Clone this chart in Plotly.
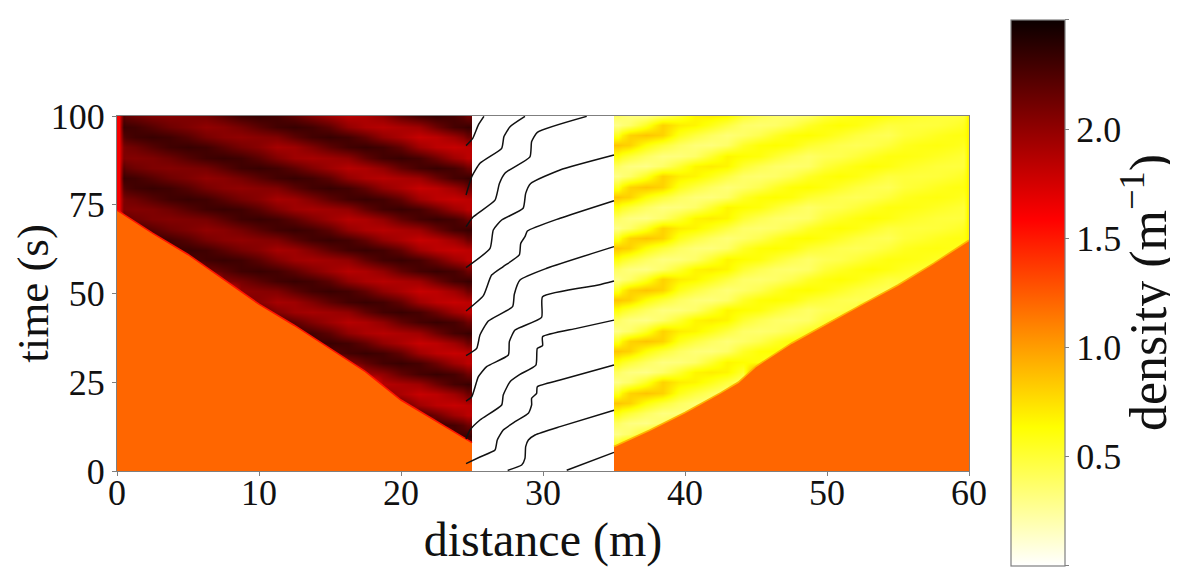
import plotly.graph_objects as go

# ---------- density readings (m^-1) ----------
# colour map
hot_r = [[0, "rgb(255,255,255)"], [0.254, "rgb(255,255,0)"], [0.635, "rgb(255,0,0)"], [1, "rgb(11,0,0)"]]

# upstream block: cell edges in metres, row centres in seconds
left_x_edges = [0, .25, .625, 1.875, 3.125, 4.375, 5.625, 6.875, 8.125, 9.375, 10.625, 11.875, 13.125,
                14.375, 15.625, 16.875, 18.125, 19.375, 20.625, 21.875, 23.125, 24.375, 25]
left_t = [-1.6, 1.3, 4.2, 7.1, 10.0, 12.9, 15.8, 18.7, 21.6, 24.5, 27.4, 30.3, 33.2, 36.1, 39.0, 41.9, 44.8,
          47.7, 50.6, 53.5, 56.4, 59.3, 62.2, 65.1, 68.0, 70.9, 73.8, 76.7, 79.6, 82.5, 85.4, 88.3, 91.2,
          94.1, 97.0, 99.9, 102.8]
R0 = [2.33,2.30,2.22,2.13,2.07,2.00,2.03,2.10,2.20,2.29,2.33,2.29,2.19,2.00,1.90,1.86,1.90,1.95,2.13,2.28,2.33]
R2 = [2.22,2.13,2.07,2.05,2.07,2.10,2.20,2.30,2.33,2.29,2.19,2.06,1.95,1.86,1.90,2.00,2.17,2.28,2.33,2.28,2.13]
R4 = [2.07,2.05,2.07,2.13,2.22,2.30,2.33,2.30,2.20,2.06,1.95,1.92,1.95,2.00,2.17,2.29,2.33,2.28,2.13,1.95,1.84]
R6 = [2.07,2.13,2.22,2.30,2.33,2.30,2.20,2.10,2.03,1.92,1.95,2.06,2.19,2.29,2.33,2.29,2.17,1.95,1.84,1.80,1.84]
R8 = [2.22,2.30,2.33,2.30,2.22,2.10,2.03,2.00,2.03,2.06,2.19,2.29,2.33,2.29,2.17,2.00,1.90,1.80,1.84,1.95,2.13]
left_rows = [R2, R4, R6, R8, R0] * 7 + [R2, R4]
left_first_congested = [21,21,21,20,19,18,17,16,15,15,14,13,12,11,10,9,8,7,7,6,5,4,3,2,1,0,
                        0,0,0,0,0,0,0,0,0,0,0]
free_density = 1.2
left_edge_density = 1.62

# downstream block
right_x_edges = [35, 35.57, 36.70, 37.84, 38.98, 40.11, 41.25, 42.39, 43.52, 44.66, 45.80, 46.93, 48.07, 49.20,
                 50.34, 51.48, 52.61, 53.75, 54.89, 56.02, 57.16, 58.30, 59.43, 59.8, 60]
right_t = [-1.1, 1.8, 4.7, 7.6, 10.5, 13.4, 16.3, 19.2, 22.1, 25.0, 27.9, 30.8, 33.7, 36.6, 39.5, 42.4, 45.3,
           48.2, 51.1, 54.0, 56.9, 59.8, 62.7, 65.6, 68.5, 71.4, 74.3, 77.2, 80.1, 83.0, 85.9, 88.8, 91.7,
           94.6, 97.5, 100.4, 103.3]
Q0 = [.85,.80,.62,.50,.40,.34,.33,.38,.54,.62,.64,.61,.52,.48,.44,.42,.44,.49,.56,.59,.60,.58,.55]
Q2 = [.55,.80,.85,.80,.58,.48,.40,.34,.38,.44,.54,.62,.64,.60,.54,.48,.44,.42,.49,.52,.56,.59,.60]
Q4 = [.30,.38,.55,.80,.70,.67,.58,.48,.38,.36,.38,.44,.54,.60,.63,.60,.54,.48,.49,.48,.49,.52,.56]
Q6 = [.40,.32,.30,.38,.52,.67,.70,.67,.52,.44,.38,.36,.38,.49,.55,.60,.63,.60,.55,.52,.49,.48,.49]
Q8 = [.62,.50,.40,.32,.33,.38,.52,.67,.64,.61,.52,.44,.38,.42,.44,.49,.55,.60,.60,.58,.55,.52,.49]
right_rows = [Q6, Q8, Q0, Q2, Q4] * 7 + [Q6, Q8]
right_cells_released = [0,0,1,2,4,5,6,7,8,9,9,11,12,13,14,15,16,18,19,20,21,22,
                        23,23,23,23,23,23,23,23,23,23,23,23,23,23,23]
right_edge_density = 0.68

# fronts between the free-flow region and the waves
left_front_x = [0, 2.5, 5, 7.5, 10, 12.5, 15, 17.5, 20, 22.5, 25]
left_front_t = [73.5, 67, 61, 54, 47, 41, 34.5, 28, 20, 14, 8]
right_front_x = [35, 37.5, 40, 42.5, 43.75, 45, 47.5, 50, 52.5, 55, 57.5, 60]
right_front_t = [6.9, 11.5, 16.5, 22, 25, 29.5, 36, 41.6, 47, 52.4, 58.5, 65]

# vehicle trajectories in the middle section: (distance, time)
trajectories = [
    ([31.67, 35], [.2, 5.25]),
    ([27.51, 28.5, 28.73, 28.78, 28.97, 29.44, 31.2, 35], [.18, 1.68, 3.56, 6.85, 8.73, 10.14, 12.5, 17.1]),
    ([24.58, 25.56, 26.62, 26.78, 27.2, 28.03, 28.97, 29.2, 29.2, 29.55, 29.6, 31.2, 35],
     [2.06, 3.94, 5.91, 8.73, 11.55, 13.89, 16.24, 18.6, 20.47, 21.87, 23.75, 25.63, 29.85]),
    ([24.58, 24.86, 25.56, 27.09, 27.2, 27.68, 28.38, 29.5, 29.6, 29.97, 29.97, 32.37, 35],
     [9.01, 11.55, 14.36, 18.59, 21.4, 25.16, 27.2, 29.85, 34.55, 35.3, 37.84, 40.18, 42.5]),
    ([24.58, 24.98, 25.45, 26.03, 27.56, 27.63, 28.03, 29.9, 29.97, 33.9, 35],
     [19.7, 20.9, 26.57, 29.4, 32.67, 36.43, 39.7, 43.28, 49.1, 52.39, 53.5]),
    ([24.58, 25.33, 25.56, 26.15, 27.86, 27.98, 28.38, 30.26, 35],
     [32.5, 34.55, 38.3, 42.25, 46.3, 49.8, 53.8, 57.1, 63.2]),
    ([24.58, 25.8, 26.38, 27.2, 28.33, 28.43, 28.73, 28.9, 31.2, 35],
     [45.07, 49.4, 55.2, 57.6, 60.85, 64.1, 66, 67.6, 71.2, 76.15]),
    ([24.58, 26.27, 26.5, 27.09, 28.6, 28.78, 29.13, 31.2, 35],
     [57.3, 62.7, 67.9, 70.7, 74, 78.2, 81, 84.8, 89]),
    ([24.58, 25.09, 26.62, 26.93, 27.32, 29.08, 29.2, 29.6, 33.08],
     [68.8, 71.6, 76.3, 81, 83.9, 88.5, 92.8, 95.4, 99.9]),
    ([24.58, 24.98, 25.56, 27.09, 27.25, 27.68, 28.73],
     [77.75, 82.9, 86.7, 90.9, 94.2, 97, 99.9]),
    ([24.58, 25.05, 25.45, 25.84], [91.65, 93.7, 97.5, 99.9]),
]

x_ticks = [0, 10, 20, 30, 40, 50, 60]
y_ticks = [0, 25, 50, 75, 100]
x_title = "distance (m)"
y_title = "time (s)"
bar_title = "density (m<sup>\u22121</sup>)"

# ---------- assemble cells ----------
z_left = []
for row, first in zip(left_rows, left_first_congested):
    edge = left_edge_density if left_t[len(z_left)] > 73 else free_density
    z_left.append([edge] + [free_density] * first + row[first:])
z_right = []
for row, n in zip(right_rows, right_cells_released):
    edge = right_edge_density if n == 23 else free_density
    z_right.append(row[:n] + [free_density] * (23 - n) + [edge])

FONT = "Liberation Serif"
GREY = "#7f7f7f"
INK = "#111111"
fig = go.Figure()
fig.add_trace(go.Heatmap(x=left_x_edges, y=left_t, z=z_left, coloraxis="coloraxis", zsmooth="best", hoverinfo="skip"))
fig.add_trace(go.Heatmap(x=right_x_edges, y=right_t, z=z_right, coloraxis="coloraxis", zsmooth="best", hoverinfo="skip"))

# free-flow wedges with their thin transition edge
fig.add_trace(go.Scatter(x=left_front_x + [25, 0], y=left_front_t + [0, 0], fill="toself", fillcolor="#ff6600",
                         mode="none", showlegend=False, hoverinfo="skip"))
fig.add_trace(go.Scatter(x=left_front_x, y=left_front_t, mode="lines", line=dict(color="#ff1500", width=1.6),
                         showlegend=False, hoverinfo="skip"))
fig.add_trace(go.Scatter(x=[35] + right_front_x + [60], y=[0] + right_front_t + [0], fill="toself", fillcolor="#ff6600",
                         mode="none", showlegend=False, hoverinfo="skip"))
fig.add_trace(go.Scatter(x=right_front_x, y=right_front_t, mode="lines", line=dict(color="#ffb400", width=1.6),
                         showlegend=False, hoverinfo="skip"))

for tx, tt in trajectories:
    fig.add_trace(go.Scatter(x=tx, y=tt, mode="lines", line=dict(color=INK, width=1.5, shape="spline", smoothing=0.5),
                             showlegend=False, hoverinfo="skip"))

fig.update_layout(
    width=1170, height=575, margin=dict(l=109, r=209, t=108, b=112, autoexpand=False),
    paper_bgcolor="white", plot_bgcolor="white",
    font=dict(family=FONT, color=INK, size=36),
    coloraxis=dict(
        cmin=0, cmax=2.5, colorscale=hot_r,
        colorbar=dict(
            thicknessmode="pixels", thickness=54, lenmode="pixels", len=546,
            x=1.049, xanchor="left", xpad=0, y=-0.2676, yanchor="bottom", ypad=0,
            outlinecolor=GREY, outlinewidth=1.2, ticks="outside", ticklen=4, tickcolor=GREY, tickwidth=1,
            tick0=0, dtick=0.5, tickformat=".1f", tickfont=dict(family=FONT, size=36, color=INK),
        ),
    ),
    xaxis=dict(range=[0, 60], tickvals=x_ticks, ticks="outside", ticklen=4, tickcolor=GREY, showline=True, mirror=True,
               linecolor=GREY, linewidth=1, showgrid=False, zeroline=False, automargin=False, ticklabelstandoff=-14,
               title=dict(text=x_title, font=dict(size=48), standoff=0)),
    yaxis=dict(range=[0, 100], tickvals=y_ticks, ticks="outside", ticklen=4, tickcolor=GREY, showline=True, mirror=True,
               linecolor=GREY, linewidth=1, showgrid=False, zeroline=False, automargin=False,
               title=dict(text=y_title, font=dict(size=45), standoff=6)),
    annotations=[dict(text=bar_title, textangle=-90, xref="paper", yref="paper", x=1.2066, y=0.5014,
                      xanchor="center", yanchor="middle", showarrow=False, font=dict(family=FONT, size=52, color=INK))],
)
fig.write_html("out.html")
